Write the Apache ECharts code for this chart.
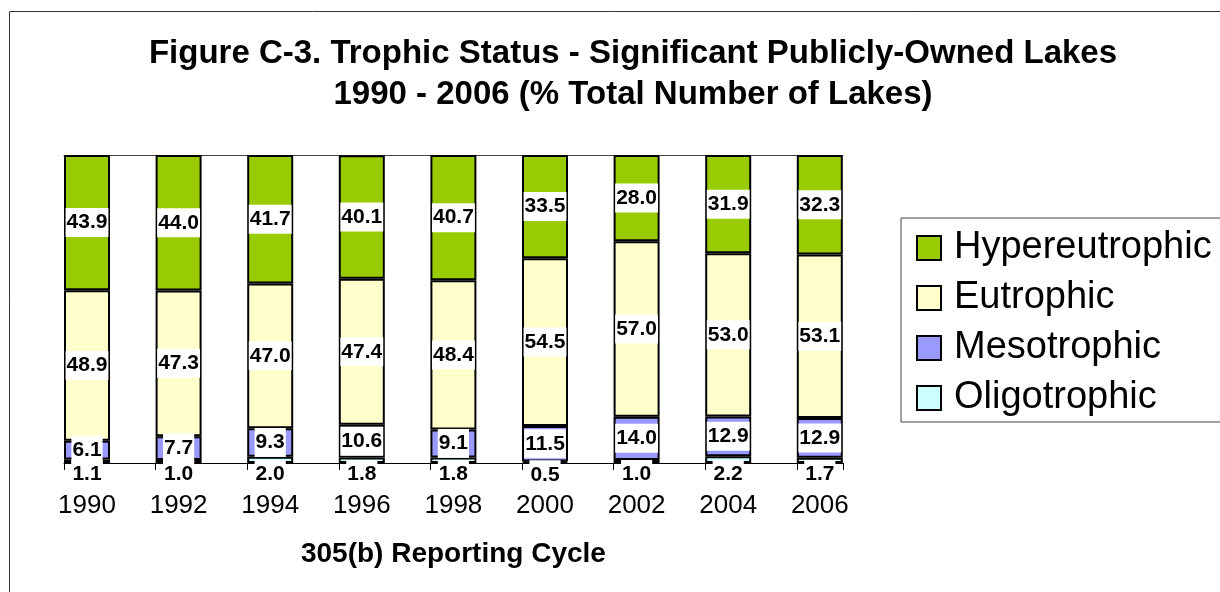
<!DOCTYPE html>
<html>
<head>
<meta charset="utf-8">
<script src="https://cdn.jsdelivr.net/npm/echarts@6/dist/echarts.min.js"></script>
<style>
  html, body { margin: 0; padding: 0; background: #fff; }
  #main { width: 1220px; height: 592px; }
</style>
</head>
<body>
<div id="main"></div>
<script>
// reporting cycles
var years = ['1990', '1992', '1994', '1996', '1998', '2000', '2002', '2004', '2006'];
// % of lakes per trophic class
var oligotrophic   = [1.1, 1.0, 2.0, 1.8, 1.8, 0.5, 1.0, 2.2, 1.7];
var mesotrophic    = [6.1, 7.7, 9.3, 10.6, 9.1, 11.5, 14.0, 12.9, 12.9];
var eutrophic      = [48.9, 47.3, 47.0, 47.4, 48.4, 54.5, 57.0, 53.0, 53.1];
var hypereutrophic = [43.9, 44.0, 41.7, 40.1, 40.7, 33.5, 28.0, 31.9, 32.3];

var FONT = 'Liberation Sans, Arial, sans-serif';

var myChart = echarts.init(document.getElementById('main'));

function labelCfg(pos, dist) {
  return {
    show: true,
    position: pos,
    distance: dist,
    color: '#000',
    fontFamily: FONT,
    fontSize: 21,
    fontWeight: 'bold',
    lineHeight: 21,
    backgroundColor: '#fff',
    padding: [4, 1],
    formatter: function (p) { return p.value.toFixed(1); }
  };
}

function barSeries(name, data, color, label) {
  return {
    name: name,
    type: 'bar',
    stack: 'total',
    xAxisIndex: 0,
    yAxisIndex: 0,
    barWidth: 46,
    data: data,
    itemStyle: { color: color, borderColor: '#000', borderWidth: 2 },
    label: label,
    emphasis: { disabled: true }
  };
}

var option = {
  backgroundColor: '#fff',
  animation: false,
  title: {
    text: 'Figure C-3. Trophic Status - Significant Publicly-Owned Lakes\n1990 - 2006 (% Total Number of Lakes)',
    left: 628,
    top: 28,
    textAlign: 'center',
    textStyle: { fontFamily: FONT, fontSize: 33, fontWeight: 'bold', color: '#000', lineHeight: 41 }
  },
  legend: {
    orient: 'vertical',
    left: 901,
    top: 218,
    data: ['Hypereutrophic', 'Eutrophic', 'Mesotrophic', 'Oligotrophic'],
    icon: 'rect',
    itemWidth: 24,
    itemHeight: 24,
    itemGap: 12,
    borderColor: '#444',
    borderWidth: 1,
    padding: [11, 20, 5, 15],
    textStyle: { fontFamily: FONT, fontSize: 38, lineHeight: 38, color: '#000', padding: [0, 0, 0, 8] }
  },
  grid: [
    { left: 41.2, width: 824.4, top: 155, height: 308 },
    { left: 64, width: 779, top: 155, height: 308 }
  ],
  xAxis: [
    {
      type: 'category',
      gridIndex: 0,
      data: years,
      axisLine: { show: false },
      axisTick: { show: false },
      axisLabel: { fontFamily: FONT, fontSize: 26, color: '#000', margin: 30 },
      name: '305(b) Reporting Cycle',
      nameLocation: 'middle',
      nameGap: 77,
      nameTextStyle: { fontFamily: FONT, fontSize: 28, fontWeight: 'bold', color: '#000' }
    },
    {
      type: 'value',
      gridIndex: 1,
      min: 0,
      max: 8.504,
      interval: 1,
      axisLine: { show: true, lineStyle: { color: '#000', width: 1 } },
      axisTick: { show: true, length: 7, lineStyle: { color: '#000', width: 1 } },
      axisLabel: { show: false },
      splitLine: { show: false }
    },
    {
      type: 'value',
      gridIndex: 1,
      position: 'top',
      min: 0,
      max: 8.504,
      axisLine: { show: true, lineStyle: { color: '#444', width: 1 } },
      axisTick: { show: false },
      axisLabel: { show: false },
      splitLine: { show: false }
    }
  ],
  yAxis: [
    { type: 'value', gridIndex: 0, min: 0, max: 100, show: false },
    { type: 'value', gridIndex: 1, min: 0, max: 100, show: false }
  ],
  graphic: [
    {
      type: 'rect',
      shape: { x: 9.5, y: 11.5, width: 1300, height: 700 },
      style: { fill: null, stroke: '#333', lineWidth: 1 },
      silent: true
    }
  ],
  series: [
    barSeries('Oligotrophic', oligotrophic, '#CCFFFF', labelCfg('bottom', -3)),
    barSeries('Mesotrophic', mesotrophic, '#9999FF', labelCfg('inside')),
    barSeries('Eutrophic', eutrophic, '#FFFFCC', labelCfg('inside')),
    barSeries('Hypereutrophic', hypereutrophic, '#99CC00', labelCfg('inside'))
  ]
};

myChart.setOption(option);
</script>
</body>
</html>
